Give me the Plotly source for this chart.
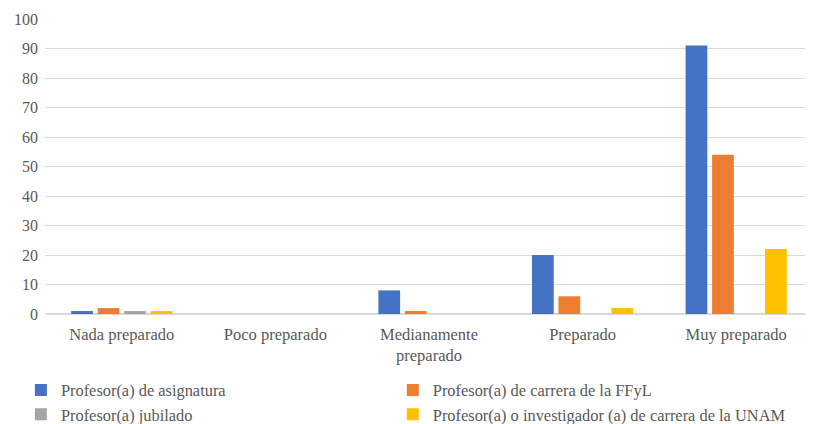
import plotly.graph_objects as go

categories = ["Nada preparado", "Poco preparado", "Medianamente<br>preparado",
              "Preparado", "Muy preparado"]
asignatura = [1, 0, 8, 20, 91]
carrera_ffyl = [2, 0, 1, 6, 54]
jubilado = [1, 0, 0, 0, 0]
investigador_unam = [1, 0, 0, 2, 22]

# name, values, colour, which legend column
series = [
    ("Profesor(a) de asignatura", asignatura, "#4472c4", "legend"),
    ("Profesor(a) de carrera de la FFyL", carrera_ffyl, "#ed7d31", "legend2"),
    ("Profesor(a) jubilado", jubilado, "#a5a5a5", "legend"),
    ("Profesor(a) o investigador (a) de carrera de la UNAM", investigador_unam, "#ffc000", "legend2"),
]

fig = go.Figure()
for name, vals, color, leg in series:
    fig.add_trace(go.Bar(x=categories, y=vals, name=name, legend=leg,
                         marker=dict(color=color, line=dict(width=0))))

txt = "#595959"
leg_common = dict(orientation="v", xref="container", yref="container", yanchor="top",
                  xanchor="left", y=0.123, font=dict(size=16.4, color=txt),
                  itemwidth=30, bgcolor="rgba(0,0,0,0)")

# page body adds an 8px margin, so the figure is a bit smaller than the window
fig.update_layout(
    width=805, height=416,
    barmode="group", bargap=0.31, bargroupgap=0.18,
    margin=dict(l=37, r=0, t=11, b=110, autoexpand=False),
    plot_bgcolor="white", paper_bgcolor="white",
    font=dict(family="Liberation Serif, Times New Roman, serif", size=16, color=txt),
    xaxis=dict(showgrid=False, showline=False, ticks="", tickfont=dict(size=16.5, color=txt),
               ticklabelstandoff=8),
    yaxis=dict(range=[0, 100], dtick=10, showgrid=True, gridcolor="#d9d9d9", gridwidth=1,
               zeroline=True, zerolinecolor="#d9d9d9", showline=False, ticks="",
               tickfont=dict(size=16, color=txt), ticklabelstandoff=6),
    legend=dict(leg_common, x=0.016),
    legend2=dict(leg_common, x=0.478),
)

fig.write_html("out.html")
